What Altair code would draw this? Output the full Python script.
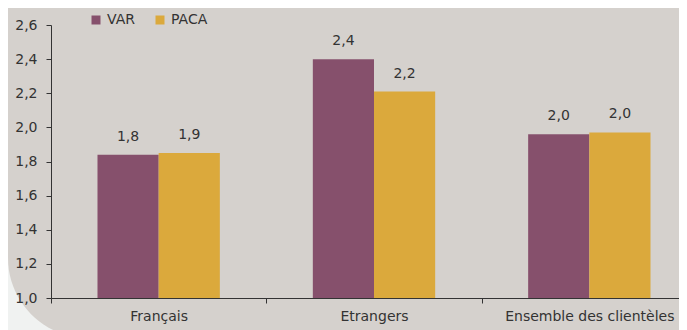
import altair as alt
import pandas as pd

categories = ["Français", "Etrangers", "Ensemble des clientèles"]
series = ["VAR", "PACA"]
var_values = [1.84, 2.40, 1.96]
paca_values = [1.85, 2.21, 1.97]
var_labels = ["1,8", "2,4", "2,0"]
paca_labels = ["1,9", "2,2", "2,0"]
y_ticks = [1.0, 1.2, 1.4, 1.6, 1.8, 2.0, 2.2, 2.4, 2.6]

rows = []
for c, v, l in zip(categories, var_values, var_labels):
    rows.append({"cat": c, "serie": "VAR", "value": v, "label": l})
for c, v, l in zip(categories, paca_values, paca_labels):
    rows.append({"cat": c, "serie": "PACA", "value": v, "label": l})
df = pd.DataFrame(rows)

FONT = "DejaVu Sans"
TXT = "#333333"
PANEL = "#D5D1CD"

x_enc = alt.X("cat:N", sort=categories, title=None,
              scale=alt.Scale(domain=categories, paddingInner=0, paddingOuter=0, range=[0, 646]),
              axis=alt.Axis(labelAngle=0, tickBand="extent", tickSize=5, labelPadding=6,
                            domainColor=TXT, tickColor=TXT, labelColor=TXT,
                            labelFontSize=14, labelFont=FONT, grid=False,
                            labelOverlap=False, zindex=1))
xoff = alt.XOffset("serie:N", sort=series,
                   scale=alt.Scale(domain=series, paddingInner=0, paddingOuter=0.76))
y_enc = alt.Y("value:Q", title=None,
              scale=alt.Scale(domain=[1.0, 2.6], zero=False, nice=False),
              axis=alt.Axis(values=y_ticks, tickCount=9, grid=False, tickSize=5, labelPadding=9,
                            labelExpr="replace(format(datum.value, '.1f'), '.', ',')",
                            domainColor=TXT, tickColor=TXT, labelColor=TXT,
                            labelFontSize=14, labelFont=FONT, labelOverlap=False,
                            zindex=1))

# decorative panel with rounded bottom-left corner
panel = alt.Chart(pd.DataFrame({"p": [0]})).mark_rect(
    color=PANEL, cornerRadiusBottomLeft=80
).encode(
    x=alt.value(-43), x2=alt.value(640), y=alt.value(-17), y2=alt.value(313)
)

bars = alt.Chart(df).mark_bar().encode(
    x=x_enc,
    xOffset=xoff,
    y=y_enc,
    y2=alt.datum(1.0),
    color=alt.Color("serie:N", sort=series,
                    scale=alt.Scale(domain=series, range=["#86506C", "#DBA93C"]),
                    legend=alt.Legend(title=None, orient="none", legendX=38, legendY=-12,
                                      direction="horizontal", symbolType="square",
                                      symbolSize=81, symbolStrokeWidth=0,
                                      labelFontSize=14, labelFont=FONT, labelColor=TXT,
                                      labelOffset=4, columnPadding=18)),
)

labels = alt.Chart(df).mark_text(baseline="alphabetic", dy=-14, fontSize=14,
                                 font=FONT, color=TXT).encode(
    x=x_enc,
    xOffset=xoff,
    y=y_enc,
    text="label:N",
)

chart = alt.layer(panel, bars, labels).properties(
    width=628, height=273,
    autosize=alt.AutoSizeParams(type="none"),
    padding={"left": 43, "top": 17, "right": 0, "bottom": 32},
    background="#F0F2F1",
).configure_view(stroke=None)

chart.save("out.html", embed_options={"renderer": "svg", "actions": False})
